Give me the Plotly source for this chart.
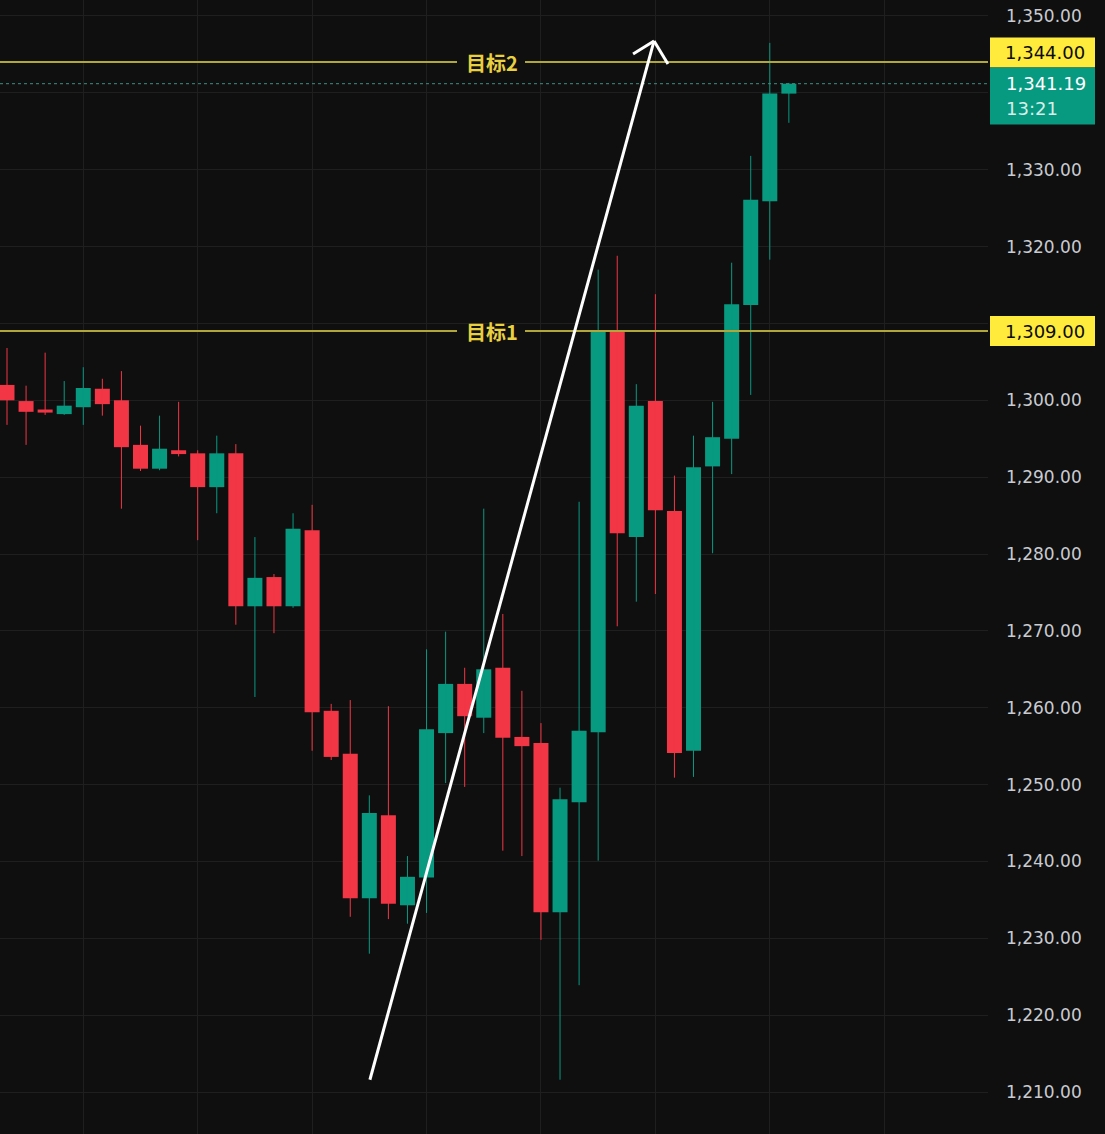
import plotly.graph_objects as go

# ---- data ----
opens  = [1302.0, 1299.9, 1298.8, 1298.2, 1299.1, 1301.5, 1300.0, 1294.2, 1291.1, 1293.5,
          1293.1, 1288.7, 1293.1, 1273.2, 1277.0, 1273.2, 1283.1, 1259.6, 1254.0, 1235.2,
          1246.0, 1234.3, 1237.9, 1256.7, 1263.1, 1258.7, 1265.2, 1256.2, 1255.4, 1233.4,
          1247.7, 1256.8, 1309.0, 1282.2, 1299.9, 1285.6, 1254.4, 1291.4, 1295.0, 1312.4,
          1325.9, 1339.9]
highs  = [1306.8, 1301.9, 1306.2, 1302.5, 1304.3, 1302.8, 1303.8, 1296.7, 1298.0, 1299.8,
          1293.5, 1295.4, 1294.3, 1282.2, 1277.4, 1285.3, 1286.4, 1260.5, 1261.0, 1248.6,
          1260.2, 1240.7, 1267.6, 1269.9, 1265.2, 1285.9, 1272.2, 1262.2, 1258.0, 1249.6,
          1286.8, 1317.0, 1318.8, 1302.1, 1313.8, 1290.2, 1295.4, 1299.8, 1317.9, 1331.8,
          1346.5, 1341.3]
lows   = [1296.8, 1294.2, 1298.1, 1298.1, 1296.8, 1298.0, 1285.9, 1290.8, 1290.9, 1292.7,
          1281.8, 1285.3, 1270.8, 1261.4, 1269.7, 1273.0, 1254.4, 1253.2, 1232.8, 1228.0,
          1232.5, 1231.9, 1233.3, 1250.2, 1249.7, 1256.7, 1241.4, 1240.7, 1229.8, 1211.6,
          1223.9, 1240.1, 1270.6, 1273.8, 1274.8, 1250.9, 1251.0, 1280.1, 1290.4, 1300.7,
          1318.3, 1336.1]
closes = [1300.0, 1298.5, 1298.4, 1299.3, 1301.6, 1299.5, 1293.9, 1291.1, 1293.7, 1293.0,
          1288.7, 1293.1, 1273.2, 1276.9, 1273.2, 1283.3, 1259.4, 1253.6, 1235.2, 1246.3,
          1234.5, 1238.0, 1257.2, 1263.1, 1258.9, 1265.0, 1256.1, 1255.0, 1233.4, 1248.1,
          1257.0, 1309.0, 1282.7, 1299.3, 1285.7, 1254.1, 1291.3, 1295.2, 1312.5, 1326.1,
          1339.9, 1341.19]
bar_index = list(range(len(opens)))

target_levels = [1309.0, 1344.0]
target_names = ["目标1", "目标2"]
last_price = 1341.19
countdown = "13:21"

y_ticks = list(range(1210, 1351, 10))
v_grid_index = [4, 10, 16, 22, 28, 34, 40, 46]

arrow_start = (19.03, 1211.6)
arrow_tip = (33.93, 1346.75)
arrow_arm_left = (32.83, 1345.06)
arrow_arm_right = (34.66, 1343.76)

# ---- styles ----
BG = "#0f0f0f"
GRID = "#1f1f1f"
UP = "#089981"
DOWN = "#f23645"
LEVEL = "#b0a63a"
LEVEL_TEXT = "#e8d041"
LABEL_BG = "#ffeb3b"
NUM_FONT = "DejaVu Sans"
CJK_FONT = "Noto Sans CJK SC"

W, H = 1105, 1134
PLOT_W = 988
BAR_PX = 19.07
Y0, Y1 = 1204.54, 1352.08
PX_PER_UNIT = H / (Y1 - Y0)


def px_to_units(px):
    return px / PX_PER_UNIT


def px_to_paper(px):
    return px / PLOT_W


fig = go.Figure()

for is_up, color in [(True, UP), (False, DOWN)]:
    idx = [i for i in bar_index if (closes[i] >= opens[i]) == is_up]
    # wicks
    wx, wy = [], []
    for i in idx:
        wx += [i, i, None]
        wy += [lows[i], highs[i], None]
    fig.add_trace(go.Scatter(x=wx, y=wy, mode="lines", line=dict(color=color, width=1),
                             hoverinfo="skip", showlegend=False))
    # bodies
    fig.add_trace(go.Bar(x=idx,
                         y=[max(abs(closes[i] - opens[i]), 0.15) for i in idx],
                         base=[min(opens[i], closes[i]) for i in idx],
                         width=15 / BAR_PX, marker=dict(color=color, line=dict(width=0)),
                         hoverinfo="skip", showlegend=False))

shapes = []
annotations = []

# target lines with a gap for the label
for lvl, name in zip(target_levels, target_names):
    for xa, xb in [(0, 457), (525, PLOT_W)]:
        shapes.append(dict(type="line", xref="paper", yref="y",
                           x0=px_to_paper(xa), x1=px_to_paper(xb), y0=lvl, y1=lvl,
                           line=dict(color=LEVEL, width=2), layer="above"))
    annotations.append(dict(xref="paper", yref="y", x=px_to_paper(491.5), y=lvl,
                            text="<b>" + name + "</b>", showarrow=False,
                            font=dict(family=CJK_FONT, size=20, color=LEVEL_TEXT),
                            xanchor="center", yanchor="middle"))

# axis price labels (upper one nudged up to make room for the last-price tag)
label_offsets_px = [0.0, 9.5]
for lvl, off in zip(target_levels, label_offsets_px):
    centre = lvl + px_to_units(off)
    half = px_to_units(15)
    shapes.append(dict(type="rect", xref="paper", yref="y",
                       x0=px_to_paper(990), x1=px_to_paper(1095),
                       y0=centre - half, y1=centre + half,
                       fillcolor=LABEL_BG, line=dict(width=0), layer="above"))
    annotations.append(dict(xref="paper", yref="y", x=px_to_paper(1045), y=centre,
                            text=f"{lvl:,.2f}", showarrow=False,
                            font=dict(family=NUM_FONT, size=18, color="#0b0b0b"),
                            xanchor="center", yanchor="middle"))

# last price dotted line and label
shapes.append(dict(type="line", xref="paper", yref="y", x0=0, x1=1, y0=last_price, y1=last_price,
                   line=dict(color="#3f8f80", width=1, dash="dot"), layer="above"))
top_box = target_levels[1] + px_to_units(9.5) - px_to_units(15)
shapes.append(dict(type="rect", xref="paper", yref="y",
                   x0=px_to_paper(990), x1=px_to_paper(1095),
                   y0=top_box - px_to_units(57), y1=top_box,
                   fillcolor=UP, line=dict(width=0), layer="above"))
annotations.append(dict(xref="paper", yref="y", x=px_to_paper(1004), y=top_box - px_to_units(16),
                        text=f"{last_price:,.2f}", showarrow=False,
                        font=dict(family=NUM_FONT, size=18, color="#ffffff"),
                        xanchor="left", yanchor="middle"))
annotations.append(dict(xref="paper", yref="y", x=px_to_paper(1004), y=top_box - px_to_units(41),
                        text=countdown, showarrow=False,
                        font=dict(family=NUM_FONT, size=18, color="#d6efe9"),
                        xanchor="left", yanchor="middle"))

# white arrow
for a, b in [(arrow_start, arrow_tip), (arrow_arm_left, arrow_tip), (arrow_arm_right, arrow_tip)]:
    shapes.append(dict(type="line", xref="x", yref="y", x0=a[0], y0=a[1], x1=b[0], y1=b[1],
                       line=dict(color="#ffffff", width=3), layer="above"))

x_left = -7 / BAR_PX
x_right = x_left + PLOT_W / BAR_PX

# tick labels hidden fully behind the last-price tag are left blank
tick_text = ["" if v == 1340 else f"{v:,.2f}" for v in y_ticks]

fig.update_layout(
    width=W, height=H,
    margin=dict(l=0, r=W - PLOT_W, t=0, b=0),
    paper_bgcolor=BG, plot_bgcolor=BG,
    shapes=shapes, annotations=annotations,
    barmode="overlay",
    xaxis=dict(range=[x_left, x_right],
               tickvals=v_grid_index, showticklabels=False, showgrid=True,
               gridcolor=GRID, gridwidth=1, zeroline=False, showline=False, ticks=""),
    yaxis=dict(range=[Y0, Y1], side="right", tickvals=y_ticks, ticktext=tick_text,
               showgrid=True, gridcolor=GRID, gridwidth=1, zeroline=False,
               showline=False, ticks="", ticklabelstandoff=17,
               tickfont=dict(family=NUM_FONT, size=17, color="#c9cbd1")),
    showlegend=False,
)

fig.write_html("out.html", config={"displayModeBar": False})
